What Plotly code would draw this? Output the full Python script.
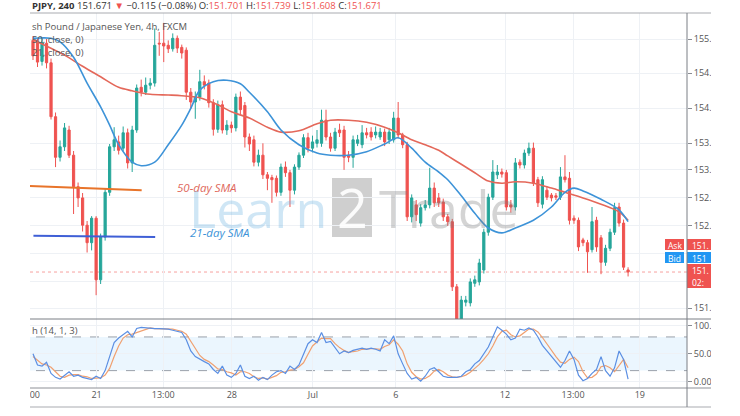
import plotly.graph_objects as go

# ---------------- data ----------------
bars = list(range(133))

open_ = [154.98, 154.95, 154.68, 154.94, 154.66, 153.89, 153.31, 153.46, 153.70, 153.34,
         152.89, 152.73, 152.34, 152.09, 152.44, 151.56, 152.17, 152.81, 153.46, 153.53,
         153.44, 153.66, 153.23, 153.70, 154.31, 154.24, 154.34, 154.37, 154.94, 154.94,
         154.91, 154.86, 155.01, 154.88, 154.84, 154.24, 154.10, 154.17, 154.39, 154.37,
         154.09, 153.71, 154.06, 153.70, 153.77, 153.73, 154.17, 154.05, 153.60, 153.56,
         153.24, 153.34, 153.06, 153.02, 153.01, 152.81, 153.17, 153.09, 152.84, 153.17,
         153.34, 153.59, 153.44, 153.51, 153.51, 153.84, 153.60, 153.44, 153.70, 153.70,
         153.34, 153.31, 153.51, 153.49, 153.66, 153.67, 153.63, 153.60, 153.67, 153.56,
         153.56, 153.87, 153.63, 153.49, 152.46, 152.63, 152.37, 152.59, 152.63, 152.87,
         152.73, 152.67, 152.46, 152.39, 151.46, 150.99, 151.24, 151.23, 151.51, 151.53,
         151.70, 152.24, 152.74, 153.06, 153.10, 153.09, 152.63, 152.60, 153.24, 153.20,
         153.37, 153.44, 152.99, 152.64, 152.84, 152.77, 152.76, 152.74, 153.03, 153.01,
         152.44, 152.41, 152.13, 152.09, 151.99, 152.41, 152.16, 151.81, 152.01, 152.24,
         152.60, 152.37, 151.701]
high = [155.04, 155.00, 155.02, 155.00, 154.72, 153.95, 153.55, 153.80, 153.76, 153.40,
        152.95, 152.80, 152.40, 152.47, 152.47, 152.22, 152.86, 153.50, 153.74, 153.62,
        153.75, 153.72, 153.76, 154.35, 154.42, 154.45, 154.44, 155.15, 155.10, 155.23,
        154.98, 155.08, 155.05, 154.92, 154.88, 154.30, 154.25, 154.56, 154.48, 154.42,
        154.14, 154.12, 154.12, 153.84, 153.82, 154.22, 154.25, 154.10, 153.65, 153.62,
        153.42, 153.51, 153.10, 153.06, 153.05, 153.22, 153.25, 153.13, 153.21, 153.38,
        153.64, 153.66, 153.62, 153.70, 153.99, 153.99, 153.66, 153.73, 153.79, 153.76,
        153.40, 153.62, 153.63, 153.77, 153.73, 153.74, 153.75, 153.73, 153.72, 153.73,
        153.96, 154.10, 153.66, 153.53, 152.78, 152.70, 152.64, 152.70, 153.16, 152.95,
        152.80, 152.72, 152.50, 152.43, 151.50, 151.33, 151.33, 151.58, 151.62, 151.86,
        152.29, 152.79, 153.27, 153.20, 153.15, 153.13, 152.70, 153.30, 153.28, 153.42,
        153.52, 153.52, 153.03, 153.04, 152.90, 152.80, 152.80, 153.17, 153.34, 153.10,
        152.48, 152.45, 152.16, 152.13, 152.60, 152.46, 152.20, 152.06, 152.29, 152.66,
        152.66, 152.42, 151.739]
low = [154.70, 154.60, 154.62, 154.58, 153.85, 153.17, 153.25, 153.40, 153.30, 152.50,
       152.60, 152.25, 151.95, 151.98, 151.34, 151.50, 152.12, 152.76, 153.40, 153.35,
       153.40, 153.15, 153.10, 153.66, 154.18, 154.20, 154.28, 154.32, 154.76, 154.67,
       154.80, 154.82, 154.80, 154.72, 154.13, 154.00, 153.86, 154.12, 154.28, 154.02,
       153.62, 153.66, 153.65, 153.63, 153.66, 153.68, 153.92, 153.45, 153.40, 153.18,
       153.18, 153.00, 152.84, 152.66, 152.75, 152.76, 153.03, 152.60, 152.78, 153.13,
       153.30, 153.38, 153.38, 153.45, 153.46, 153.55, 153.39, 153.40, 153.60, 153.13,
       153.24, 153.16, 153.47, 153.44, 153.58, 153.55, 153.58, 153.56, 153.47, 153.50,
       153.52, 153.58, 153.44, 152.40, 152.38, 152.40, 152.32, 152.55, 152.58, 152.60,
       152.60, 152.40, 152.33, 151.40, 150.90, 150.92, 151.18, 151.18, 151.46, 151.48,
       151.65, 152.19, 152.70, 153.00, 153.02, 152.55, 152.52, 152.55, 153.15, 153.15,
       153.33, 152.90, 152.60, 152.58, 152.70, 152.68, 152.70, 152.70, 152.95, 152.35,
       152.36, 151.97, 152.04, 151.66, 151.95, 151.96, 151.64, 151.76, 151.97, 152.20,
       152.32, 151.70, 151.608]
close = [154.76, 154.67, 154.95, 154.66, 153.89, 153.31, 153.46, 153.73, 153.34, 152.89,
         152.73, 152.34, 152.09, 152.44, 151.56, 152.17, 152.81, 153.46, 153.56, 153.41,
         153.66, 153.23, 153.70, 154.30, 154.24, 154.34, 154.37, 154.91, 154.93, 154.90,
         154.86, 155.01, 154.87, 154.80, 154.24, 154.10, 154.17, 154.39, 154.34, 154.09,
         153.71, 154.06, 153.70, 153.77, 153.73, 154.17, 153.99, 153.60, 153.50, 153.24,
         153.34, 153.06, 153.01, 152.99, 152.81, 153.17, 153.09, 152.84, 153.17, 153.34,
         153.59, 153.44, 153.53, 153.56, 153.84, 153.60, 153.44, 153.67, 153.66, 153.31,
         153.31, 153.56, 153.56, 153.66, 153.63, 153.60, 153.67, 153.67, 153.53, 153.67,
         153.87, 153.63, 153.49, 152.46, 152.73, 152.49, 152.59, 152.63, 152.87, 152.66,
         152.66, 152.46, 152.39, 151.46, 150.99, 151.27, 151.27, 151.53, 151.56, 151.80,
         152.24, 152.74, 153.10, 153.10, 153.07, 152.60, 152.60, 153.23, 153.20, 153.37,
         153.44, 152.94, 152.66, 152.99, 152.74, 152.73, 152.74, 153.03, 152.99, 152.41,
         152.41, 152.03, 152.09, 151.96, 152.39, 152.03, 151.81, 152.01, 152.24, 152.59,
         152.37, 151.74, 151.671]

# 50-period and 21-period moving averages
sma50_x = [0, 7, 11, 15, 19, 22, 26, 30, 33, 37, 41, 44, 48, 52, 55, 59, 63, 66, 70, 74,
           78, 81, 84, 87, 90, 92, 95, 98, 101, 104, 107, 111, 115, 118, 122, 126, 130, 132]
sma50_y = [154.99, 154.77, 154.61, 154.46, 154.31, 154.26, 154.21, 154.20, 154.19, 154.16,
           154.06, 153.96, 153.87, 153.74, 153.67, 153.69, 153.79, 153.84, 153.84, 153.81,
           153.74, 153.66, 153.56, 153.49, 153.41, 153.33, 153.21, 153.09, 152.97, 152.94,
           152.96, 152.94, 152.87, 152.81, 152.73, 152.64, 152.53, 152.41]
sma21_x = [0, 4, 6, 9, 12, 15, 17, 19, 22, 24, 27, 30, 33, 35, 37, 40, 43, 46, 48, 52,
           55, 59, 63, 66, 70, 74, 78, 81, 84, 87, 90, 92, 95, 98, 101, 104, 107, 111,
           115, 118, 120, 122, 126, 130, 132]
sma21_y = [155.01, 155.01, 154.96, 154.74, 154.37, 154.03, 153.77, 153.49, 153.24, 153.19,
           153.24, 153.49, 153.77, 154.01, 154.27, 154.39, 154.41, 154.36, 154.24, 153.96,
           153.70, 153.49, 153.37, 153.34, 153.34, 153.39, 153.50, 153.59, 153.44, 153.24,
           153.10, 152.99, 152.76, 152.51, 152.30, 152.23, 152.30, 152.41, 152.60, 152.81,
           152.87, 152.83, 152.71, 152.56, 152.39]

# hand-drawn horizontal levels
level_orange_x = [-0.7, 24.1]
level_orange_y = [152.90, 152.84]
level_blue_x = [0.1, 27.1]
level_blue_y = [152.19, 152.17]

# Stochastic (14, 1, 3)
stoch_k = [50, 30, 28, 35, 15, 8, 5, 12, 18, 10,
           12, 8, 6, 4, 10, 6, 20, 45, 70, 78,
           84, 90, 80, 95, 97, 96, 95, 95, 95, 95,
           94, 92, 90, 88, 75, 55, 45, 40, 36, 32,
           22, 15, 28, 12, 8, 15, 30, 10, 6, 10,
           3, 8, 4, 12, 18, 20, 15, 28, 22, 30,
           50, 68, 75, 70, 88, 70, 72, 62, 50, 55,
           52, 56, 58, 60, 58, 60, 58, 55, 75, 68,
           82, 50, 32, 15, 5, 8, 1, 10, 22, 25,
           18, 10, 8, 8, 8, 10, 18, 22, 32, 38,
           50, 62, 80, 98, 92, 85, 75, 78, 94, 92,
           96, 92, 80, 65, 55, 45, 35, 26, 38, 55,
           40, 12, 2, 6, 15, 22, 45, 20, 10, 25,
           55, 40, 5]
stoch_d = [45, 38, 32, 30, 26, 18, 10, 8, 12, 13,
           13, 10, 9, 6, 7, 7, 12, 24, 45, 64,
           78, 84, 85, 88, 90, 94, 96, 95, 95, 95,
           95, 94, 92, 90, 85, 72, 58, 47, 40, 36,
           30, 23, 22, 18, 16, 12, 18, 18, 15, 9,
           6, 7, 5, 8, 11, 17, 18, 21, 22, 27,
           34, 49, 64, 71, 78, 77, 77, 68, 61, 56,
           52, 54, 55, 58, 59, 59, 59, 58, 63, 66,
           75, 67, 55, 32, 17, 9, 5, 6, 11, 19,
           22, 18, 12, 9, 8, 9, 12, 17, 24, 31,
           40, 50, 64, 80, 90, 92, 84, 80, 82, 88,
           94, 94, 89, 79, 67, 55, 45, 35, 33, 40,
           44, 36, 18, 7, 8, 14, 27, 29, 25, 18,
           28, 40, 25]

date_tick_pos = [-1.0, 14.1, 28.9, 44.1, 62.1, 80.5, 104.7, 119.8, 134.6]
date_tick_text = ["13:00", "21", "13:00", "28", "Jul", "6", "12", "13:00", "19"]

price_tick_vals = [155.0, 154.514, 154.014, 153.514, 153.129, 152.729, 152.329,
                   151.929, 151.529, 151.157]
price_tick_text = ["155.", "154.", "154.", "153.", "153.", "152.", "152.", "", "", "151."]

stoch_tick_vals = [0, 50, 100]
stoch_tick_text = ["0.00", "50.00", "100.00"]

# ---------------- figure ----------------
W, H = 740, 416
def px(x):
    return x / W
def py(y):
    return 1 - y / H

UP, DN = "#26a69a", "#ef5350"
GRID = "#eef1f5"
FONT = "Open Sans"
XR = [-7.32, 145.07]
XDOM = [0, px(687)]

fig = go.Figure()
fig.add_trace(go.Candlestick(
    x=bars, open=open_, high=high, low=low, close=close,
    increasing=dict(line=dict(color=UP, width=1), fillcolor=UP),
    decreasing=dict(line=dict(color=DN, width=1), fillcolor=DN),
    whiskerwidth=0, hoverinfo="skip", showlegend=False, xaxis="x", yaxis="y"))
fig.add_trace(go.Scatter(x=sma50_x, y=sma50_y, mode="lines", hoverinfo="skip",
                         line=dict(color="#e4685a", width=1.6, shape="spline", smoothing=0.9),
                         showlegend=False, xaxis="x", yaxis="y"))
fig.add_trace(go.Scatter(x=sma21_x, y=sma21_y, mode="lines", hoverinfo="skip",
                         line=dict(color="#3d93d8", width=1.6, shape="spline", smoothing=0.9),
                         showlegend=False, xaxis="x", yaxis="y"))
fig.add_trace(go.Scatter(x=level_orange_x, y=level_orange_y, mode="lines", hoverinfo="skip",
                         line=dict(color="#e8742a", width=2), showlegend=False,
                         xaxis="x", yaxis="y"))
fig.add_trace(go.Scatter(x=level_blue_x, y=level_blue_y, mode="lines", hoverinfo="skip",
                         line=dict(color="#3f5fd6", width=2), showlegend=False,
                         xaxis="x", yaxis="y"))
fig.add_trace(go.Scatter(x=bars, y=stoch_d, mode="lines", hoverinfo="skip",
                         line=dict(color="#f0a070", width=1.2), showlegend=False,
                         xaxis="x2", yaxis="y2"))
fig.add_trace(go.Scatter(x=bars, y=stoch_k, mode="lines", hoverinfo="skip",
                         line=dict(color="#5b8fe3", width=1.2), showlegend=False,
                         xaxis="x2", yaxis="y2"))

shapes = []
# stochastic band and dashed levels
shapes.append(dict(type="rect", xref="paper", yref="y2", x0=XDOM[0], x1=XDOM[1], y0=20, y1=80,
                   fillcolor="rgba(33,150,243,0.09)", line=dict(width=0), layer="below"))
for lv in (20, 80):
    shapes.append(dict(type="line", xref="paper", yref="y2", x0=XDOM[0], x1=XDOM[1], y0=lv, y1=lv,
                       line=dict(color="#9aa0aa", width=1, dash="dash"), layer="below"))
# last price line
shapes.append(dict(type="line", xref="paper", yref="y", x0=XDOM[0], x1=XDOM[1],
                   y0=close[-1], y1=close[-1],
                   line=dict(color="rgba(239,83,80,0.55)", width=1, dash="dot"), layer="below"))
# watermark "2" box
shapes.append(dict(type="rect", xref="paper", yref="paper", x0=px(332), x1=px(372),
                   y0=py(237), y1=py(178), fillcolor="rgba(110,110,110,0.33)",
                   line=dict(width=0), layer="below"))
# price badges
shapes.append(dict(type="rect", xref="paper", yref="paper", x0=px(665), x1=px(684),
                   y0=py(250), y1=py(239), fillcolor="#ef5350", line=dict(width=0), layer="above"))
shapes.append(dict(type="rect", xref="paper", yref="paper", x0=px(687), x1=px(712),
                   y0=py(250), y1=py(239), fillcolor="#ef5350", line=dict(width=0), layer="above"))
shapes.append(dict(type="rect", xref="paper", yref="paper", x0=px(665), x1=px(684),
                   y0=py(263), y1=py(252), fillcolor="#2196f3", line=dict(width=0), layer="above"))
shapes.append(dict(type="rect", xref="paper", yref="paper", x0=px(687), x1=px(712),
                   y0=py(263), y1=py(252), fillcolor="#2196f3", line=dict(width=0), layer="above"))
shapes.append(dict(type="rect", xref="paper", yref="paper", x0=px(687), x1=px(712),
                   y0=py(288), y1=py(264), fillcolor="#ef5350", line=dict(width=0), layer="above"))
# white crop margins
shapes.append(dict(type="rect", xref="paper", yref="paper", x0=0, x1=px(30), y0=0, y1=1,
                   fillcolor="white", line=dict(width=0), layer="above"))
shapes.append(dict(type="rect", xref="paper", yref="paper", x0=px(711), x1=1, y0=0, y1=1,
                   fillcolor="white", line=dict(width=0), layer="above"))
# frame lines
def hline(y, color, x1=711):
    return dict(type="line", xref="paper", yref="paper", x0=px(30), x1=px(x1), y0=py(y), y1=py(y),
                line=dict(color=color, width=1), layer="above")
shapes.append(hline(13, "#a9abb0"))
shapes.append(hline(319, "#7b7e85"))
shapes.append(hline(388, "#8d9096"))
shapes.append(hline(407, "#a9abb0"))
shapes.append(dict(type="line", xref="paper", yref="paper", x0=px(687), x1=px(687),
                   y0=py(407), y1=py(13), line=dict(color="#7b7e85", width=1), layer="above"))

ann = []
def note(x, y, text, size=9.5, color="#555", xanchor="left", **kw):
    d = dict(xref="paper", yref="paper", x=px(x), y=py(y), text=text, showarrow=False,
             xanchor=xanchor, yanchor="middle", font=dict(family=FONT, size=size, color=color))
    d.update(kw)
    return d

red = "#ef5350"
ann.append(note(30, 6, "<b>PJPY, 240</b> 151.671 <span style='color:%s'>▼</span> −0.115 (−0.08%%) "
                "O:<span style='color:%s'>151.701</span> H:<span style='color:%s'>151.739</span> "
                "L:<span style='color:%s'>151.608</span> C:<span style='color:%s'>151.671</span>"
                % (red, red, red, red, red), size=9.5, color="#333"))
ann.append(note(30, 26, "sh Pound / Japanese Yen, 4h, FXCM", size=9.5, color="#555"))
ann.append(note(30, 39, "50, close, 0)", size=9.5, color="#555"))
ann.append(note(30, 52, "21, close, 0)", size=9.5, color="#555"))
ann.append(note(30, 330, "h (14, 1, 3)", size=9.5, color="#555"))
# SMA labels
ann.append(note(207, 187, "<i>50-day SMA</i>", size=11.5, color="#e0685c", xanchor="center"))
ann.append(note(220, 232, "<i>21-day SMA</i>", size=11.5, color="#3d93d8", xanchor="center"))
# watermark
ann.append(note(258, 207, "Learn", size=52, color="rgba(110,180,225,0.33)", xanchor="center"))
ann.append(note(352, 207, "2", size=54, color="rgba(255,255,255,0.9)", xanchor="center"))
ann.append(note(449, 207, "Trade", size=52, color="rgba(120,120,120,0.32)", xanchor="center"))
# price badges text
ann.append(note(674.5, 245, "Ask", size=8.5, color="white", xanchor="center"))
ann.append(note(674.5, 258, "Bid", size=8.5, color="white", xanchor="center"))
ann.append(note(690, 245, "151.", size=8.5, color="white"))
ann.append(note(690, 258, "151", size=8.5, color="white"))
ann.append(note(690, 270, "151.", size=8.5, color="white"))
ann.append(note(690, 282, "02:", size=8.5, color="white"))

axis_common = dict(showline=False, zeroline=False, gridcolor=GRID, gridwidth=1)
fig.update_layout(
    width=W, height=H, margin=dict(l=0, r=0, t=0, b=0),
    paper_bgcolor="white", plot_bgcolor="white",
    showlegend=False, boxgap=0.3,
    font=dict(family=FONT, size=9, color="#555"),
    xaxis=dict(domain=XDOM, range=XR, anchor="y", showticklabels=False,
               tickvals=date_tick_pos, showgrid=True, ticks="",
               rangeslider=dict(visible=False), **axis_common),
    yaxis=dict(domain=[py(319), py(13)], range=[151.0, 155.3714], anchor="x", side="right",
               tickvals=price_tick_vals, ticktext=price_tick_text, showgrid=True,
               ticks="outside", ticklen=4, tickcolor="#8a8d93",
               tickfont=dict(family=FONT, size=9, color="#555"), **axis_common),
    xaxis2=dict(domain=XDOM, range=XR, anchor="y2", tickvals=date_tick_pos,
                ticktext=date_tick_text, showgrid=True, ticks="",
                tickfont=dict(family=FONT, size=9, color="#555"), **axis_common),
    yaxis2=dict(domain=[py(388), py(319)], range=[-11, 112], anchor="x2", side="right",
                tickvals=stoch_tick_vals, ticktext=stoch_tick_text, showgrid=True,
                ticks="outside", ticklen=4, tickcolor="#8a8d93",
                tickfont=dict(family=FONT, size=9, color="#555"), **axis_common),
    shapes=shapes, annotations=ann,
)

fig.write_html("out.html", config={"displayModeBar": False},
               post_script="document.body.style.margin='0px';")
